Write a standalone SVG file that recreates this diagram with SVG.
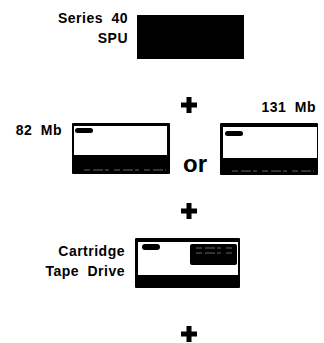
<svg xmlns="http://www.w3.org/2000/svg" width="324" height="343" viewBox="0 0 324 343">
<style>
.lbl{font-family:"Liberation Sans",Arial,sans-serif;font-weight:bold;font-size:14px;fill:#000;letter-spacing:0.5px;word-spacing:4px}
.or{font-family:"Liberation Sans",Arial,sans-serif;font-weight:bold;font-size:24px;fill:#000}
.blk{fill:#000}
.wht{fill:#fff}
.specks{stroke:#fff;stroke-width:0.8;stroke-dasharray:6 3 10 2 4 5;opacity:0.5}
</style>
<defs>
<path id="plus" d="M-2.5,-8 H2.5 V-2.5 H8 V2.5 H2.5 V8 H-2.5 V2.5 H-8 V-2.5 H-2.5 Z"/>
</defs>
<rect width="324" height="343" fill="#fff"/>

<g id="spu">
<rect class="blk" x="137" y="15" width="107" height="44"/>
<text class="lbl" x="128" y="23" text-anchor="end">Series 40</text>
<text class="lbl" x="128" y="43" text-anchor="end">SPU</text>
</g>

<g id="disk82">
<rect class="blk" x="72" y="123" width="98" height="51" rx="1"/>
<rect class="wht" x="74" y="126" width="93" height="29"/>
<rect class="blk" x="75" y="128" width="18" height="5" rx="2.5"/>
<line class="specks" x1="84" y1="170" x2="166" y2="170"/>
<text class="lbl" x="62" y="135" text-anchor="end">82 Mb</text>
</g>

<g id="disk131">
<rect class="blk" x="220" y="123" width="98" height="52" rx="1"/>
<rect class="wht" x="223" y="127" width="94" height="31"/>
<rect class="blk" x="225" y="131" width="18" height="5" rx="2.5"/>
<line class="specks" x1="232" y1="171" x2="314" y2="171"/>
<text class="lbl" x="316" y="112" text-anchor="end">131 Mb</text>
</g>

<g id="tape">
<rect class="blk" x="135" y="238" width="105" height="50" rx="1"/>
<rect class="wht" x="138" y="242" width="100" height="33"/>
<rect class="blk" x="142" y="244" width="18" height="6" rx="3"/>
<rect class="blk" x="190" y="244" width="47" height="21" rx="2"/>
<line class="specks" x1="196" y1="248" x2="234" y2="248"/>
<line class="specks" x1="196" y1="253" x2="234" y2="253"/>
<text class="lbl" x="125" y="256" text-anchor="end">Cartridge</text>
<text class="lbl" x="125" y="276" text-anchor="end">Tape Drive</text>
</g>

<g id="connectors">
<use href="#plus" x="189" y="105"/>
<text class="or" x="183" y="172">or</text>
<use href="#plus" x="189" y="211"/>
<use href="#plus" x="189" y="334"/>
</g>
</svg>
